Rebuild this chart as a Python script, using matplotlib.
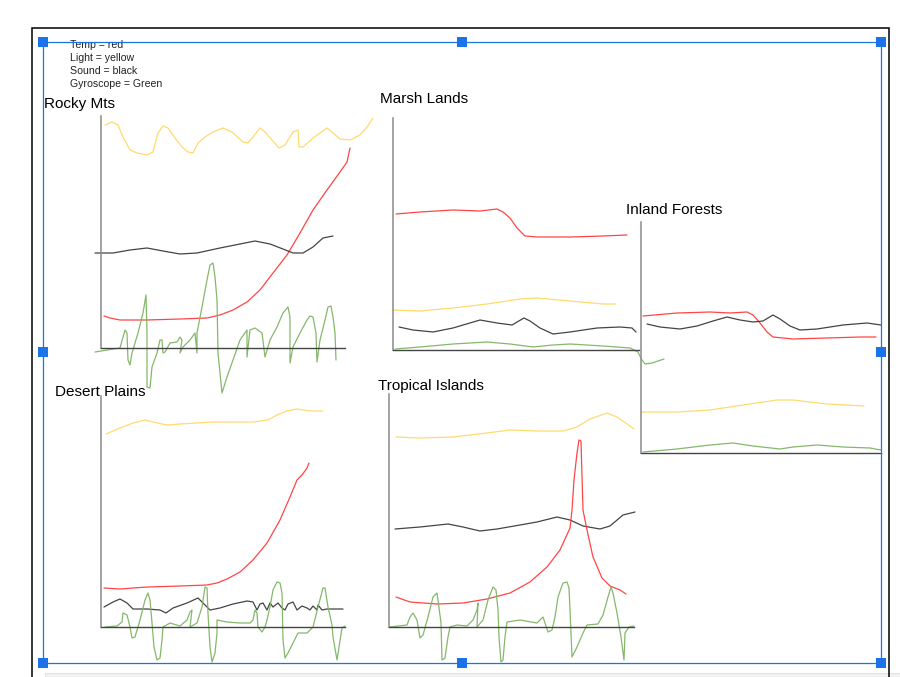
import matplotlib
matplotlib.use("Agg")
import matplotlib.pyplot as plt
from matplotlib.patches import Rectangle

plt.rcParams['font.family'] = ['Liberation Sans', 'DejaVu Sans']

# ---------------- data (panel units: x right from y-axis, y up from x-axis) -------------
legend_lines = ["Temp = red", "Light = yellow", "Sound = black", "Gyroscope = Green"]
panel_titles = ["Rocky Mts", "Desert Plains", "Marsh Lands", "Tropical Islands", "Inland Forests"]

# Rocky Mts
rocky_light_x = [4, 11, 17, 22, 29, 36, 46, 52, 57, 62, 67, 74, 81, 87, 92, 97, 104, 112, 122, 131, 142, 147, 152, 159, 164, 171, 178, 184, 192, 197, 198, 202, 212, 226, 232, 239, 249, 259, 266, 272]
rocky_light_y = [223, 226, 223, 211, 198, 195, 193, 196, 215, 222, 220, 210, 201, 196, 195, 205, 211, 216, 220, 216, 206, 205, 211, 220, 216, 208, 200, 203, 216, 218, 201, 201, 210, 220, 215, 209, 208, 213, 221, 230]
rocky_temp_x = [3, 9, 19, 46, 79, 106, 119, 132, 146, 159, 172, 186, 199, 212, 226, 239, 246, 249]
rocky_temp_y = [32, 30, 28, 28, 29, 30, 33, 38, 46, 58, 75, 93, 115, 138, 158, 176, 186, 200]
rocky_sound_x = [-6, 12, 29, 46, 62, 79, 96, 119, 139, 154, 169, 182, 192, 202, 212, 222, 232]
rocky_sound_y = [95, 95, 98, 100, 97, 94, 95, 100, 104, 107, 104, 99, 95, 95, 101, 110, 112]
rocky_gyro_x = [-6, 6, 19, 24, 26, 27, 29, 31, 37, 42, 45, 46, 46, 49, 51, 56, 59, 61, 62, 64, 69, 76, 79, 81, 79, 82, 89, 94, 96, 96, 101, 106, 109, 112, 114, 116, 117, 121, 126, 132, 139, 146, 146, 149, 154, 161, 164, 169, 176, 182, 187, 189, 189, 192, 199, 206, 209, 212, 215, 216, 219, 224, 227, 230, 232, 234, 235]
rocky_gyro_y = [-4, -2, 0, 18, 15, -12, -17, -5, 15, 35, 53, 15, -39, -40, -19, -5, 8, 8, -5, -4, 5, 6, 11, 8, -5, 1, 8, 15, -5, 15, 41, 68, 83, 85, 71, 48, -5, -45, -29, -12, 8, 18, -9, 18, 20, 15, -9, 8, 21, 35, 41, 31, -15, 1, 15, 28, 32, 31, 15, -14, 8, 28, 41, 42, 31, 15, -12]

# Desert Plains
desert_light_x = [5, 19, 32, 44, 52, 66, 79, 96, 112, 129, 152, 167, 176, 186, 196, 209, 222]
desert_light_y = [193, 199, 204, 207, 205, 202, 203, 204, 205, 205, 205, 207, 212, 216, 218, 216, 216]
desert_temp_x = [3, 19, 46, 79, 106, 116, 126, 139, 152, 166, 179, 189, 196, 201, 206, 208]
desert_temp_y = [39, 38, 40, 41, 42, 44, 48, 55, 67, 84, 107, 130, 147, 152, 159, 164]
desert_sound_x = [3, 12, 19, 26, 32, 46, 59, 65, 72, 86, 97, 102, 109, 119, 132, 146, 152, 156, 159, 162, 166, 169, 172, 177, 181, 184, 187, 192, 196, 201, 206, 209, 212, 216, 217, 221, 226, 242]
desert_sound_y = [20, 25, 28, 24, 18, 18, 17, 14, 19, 24, 29, 24, 17, 19, 23, 26, 25, 17, 23, 24, 17, 24, 20, 24, 19, 17, 23, 25, 17, 21, 19, 17, 21, 17, 22, 17, 18, 18]
desert_gyro_x = [4, 16, 21, 22, 26, 29, 31, 34, 39, 44, 47, 49, 51, 53, 56, 59, 61, 62, 69, 79, 86, 89, 91, 89, 96, 101, 104, 106, 107, 109, 111, 114, 116, 116, 126, 139, 149, 152, 154, 156, 157, 161, 164, 166, 169, 172, 176, 179, 181, 182, 184, 187, 192, 197, 206, 212, 217, 222, 224, 227, 231, 232, 236, 241, 244]
desert_gyro_y = [0, 1, 5, 14, 12, 0, -11, -10, 7, 27, 34, 27, 4, -20, -33, -31, -13, 0, 4, 1, 7, 15, 17, 0, 4, 20, 40, 39, 14, -20, -35, -26, -6, 7, 5, 4, 4, 7, 17, 14, 0, -5, 0, 7, 20, 37, 45, 44, 34, -13, -31, -26, -16, -6, -6, 0, 20, 39, 39, 20, 2, -10, -33, -1, 1]

# Marsh Lands
marsh_temp_x = [3, 27, 60, 87, 104, 110, 117, 124, 132, 144, 177, 210, 234]
marsh_temp_y = [136, 138, 140, 139, 141, 138, 132, 122, 114, 113, 113, 114, 115]
marsh_light_x = [0, 27, 60, 94, 127, 144, 177, 210, 223]
marsh_light_y = [40, 39, 42, 46, 51, 52, 49, 46, 46]
marsh_sound_x = [6, 20, 40, 60, 87, 104, 119, 131, 137, 147, 160, 177, 204, 227, 239, 243]
marsh_sound_y = [23, 20, 18, 22, 30, 27, 25, 32, 29, 22, 16, 18, 22, 23, 22, 18]
marsh_gyro_x = [2, 27, 60, 94, 117, 140, 160, 177, 210, 237, 245, 249, 252, 259, 271]
marsh_gyro_y = [1, 3, 6, 8, 6, 3, 5, 6, 4, 2, -2, -10, -14, -13, -9]

# Tropical Islands
tropic_light_x = [7, 31, 64, 98, 121, 148, 174, 188, 201, 218, 228, 238, 245]
tropic_light_y = [190, 189, 190, 194, 197, 196, 196, 200, 208, 214, 210, 203, 198]
tropic_temp_x = [7, 21, 48, 74, 98, 121, 141, 158, 171, 181, 183, 185, 188, 190, 192, 193, 194, 198, 204, 213, 221, 231, 237]
tropic_temp_y = [30, 25, 23, 24, 28, 34, 45, 60, 77, 99, 117, 147, 174, 187, 186, 151, 117, 97, 70, 49, 41, 37, 33]
tropic_sound_x = [6, 31, 59, 74, 91, 108, 131, 148, 168, 181, 194, 211, 221, 234, 246]
tropic_sound_y = [98, 100, 103, 100, 96, 98, 102, 105, 110, 107, 101, 98, 101, 112, 115]
tropic_gyro_x = [1, 18, 21, 24, 28, 31, 34, 39, 44, 48, 49, 52, 53, 56, 59, 61, 68, 78, 84, 88, 89, 88, 94, 99, 104, 107, 109, 110, 112, 114, 116, 118, 131, 148, 153, 154, 156, 159, 163, 166, 169, 174, 178, 180, 181, 183, 188, 194, 198, 209, 214, 219, 222, 224, 228, 232, 235, 236, 240, 245]
tropic_gyro_y = [0, 2, 10, 14, 7, -11, -8, 10, 30, 34, 27, 4, -33, -31, -10, 0, 2, 1, 7, 17, 24, 0, 7, 27, 40, 37, 17, -10, -35, -33, -10, 5, 7, 4, 9, 10, 4, -5, -3, 10, 30, 44, 45, 39, 17, -30, -20, -6, 2, 3, 12, 30, 40, 34, 14, -10, -33, -6, 0, 1]

# Inland Forests
inland_temp_x = [2, 36, 69, 89, 106, 112, 119, 126, 132, 152, 186, 219, 235]
inland_temp_y = [137, 140, 141, 140, 141, 138, 130, 121, 116, 114, 115, 116, 116]
inland_sound_x = [6, 19, 39, 56, 72, 86, 99, 112, 122, 132, 139, 149, 159, 176, 202, 226, 240]
inland_sound_y = [129, 126, 124, 127, 132, 136, 133, 131, 132, 138, 134, 127, 123, 124, 128, 130, 128]
inland_light_x = [0, 36, 69, 102, 136, 152, 186, 223]
inland_light_y = [41, 41, 43, 48, 53, 53, 49, 47]
inland_gyro_x = [2, 36, 69, 92, 112, 139, 152, 176, 202, 229, 240]
inland_gyro_y = [1, 4, 8, 10, 7, 4, 6, 8, 6, 5, 3]

# ---------------- styles / layout ----------------
W, H = 900, 677
RED, YELLOW, BLACK, GREEN = '#ff3b3b', '#ffd966', '#3a3a3a', '#7fb463'

fig = plt.figure(figsize=(W / 100, H / 100), dpi=100)
fig.patch.set_facecolor('white')

bg = fig.add_axes([0, 0, 1, 1])
bg.set_xlim(0, W)
bg.set_ylim(H, 0)
bg.axis('off')

# outer black frame (page)
bg.plot([32, 32, 889, 889], [H, 28, 28, H], color='black', lw=1.1, solid_joinstyle='miter')
# bottom gray strip
bg.add_patch(Rectangle((45, 673), 900, 10, facecolor='#f1f1f1', edgecolor='#e2e2e2', lw=0.8))

# legend text
clip = Rectangle((40, 43), 400, 60, transform=bg.transData, visible=False)
bg.add_patch(clip)
for i, s in enumerate(legend_lines):
    t = bg.text(70, 45 + 13 * i, s, fontsize=7.6, color='#222', va='center', ha='left')
    t.set_clip_path(clip)

# panels: (title, title_x, title_y, origin_x, origin_y, width, height, series)
panels = [
    (panel_titles[0], 44, 104, 101, 348, 244, 232,
     [(rocky_light_x, rocky_light_y, YELLOW), (rocky_temp_x, rocky_temp_y, RED),
      (rocky_sound_x, rocky_sound_y, BLACK), (rocky_gyro_x, rocky_gyro_y, GREEN)]),
    (panel_titles[1], 55, 392, 101, 627, 244, 231,
     [(desert_light_x, desert_light_y, YELLOW), (desert_temp_x, desert_temp_y, RED),
      (desert_sound_x, desert_sound_y, BLACK), (desert_gyro_x, desert_gyro_y, GREEN)]),
    (panel_titles[2], 380, 99, 393, 350, 246, 232,
     [(marsh_temp_x, marsh_temp_y, RED), (marsh_light_x, marsh_light_y, YELLOW),
      (marsh_sound_x, marsh_sound_y, BLACK), (marsh_gyro_x, marsh_gyro_y, GREEN)]),
    (panel_titles[3], 378, 386, 389, 627, 245, 233,
     [(tropic_light_x, tropic_light_y, YELLOW), (tropic_sound_x, tropic_sound_y, BLACK),
      (tropic_temp_x, tropic_temp_y, RED), (tropic_gyro_x, tropic_gyro_y, GREEN)]),
    (panel_titles[4], 626, 210, 641, 453, 240, 231,
     [(inland_temp_x, inland_temp_y, RED), (inland_sound_x, inland_sound_y, BLACK),
      (inland_light_x, inland_light_y, YELLOW), (inland_gyro_x, inland_gyro_y, GREEN)]),
]

for title, tx, ty, ox, oy, w, h, series in panels:
    bg.text(tx, ty, title, fontsize=11, color='black', ha='left', va='center')
    ax = fig.add_axes([ox / W, 1 - oy / H, w / W, h / H])
    ax.set_xlim(0, w)
    ax.set_ylim(0, h)
    ax.patch.set_alpha(0)
    for side in ('top', 'right'):
        ax.spines[side].set_visible(False)
    ax.spines['left'].set_color('#8a8a8a')
    ax.spines['left'].set_linewidth(1.1)
    ax.spines['bottom'].set_color('#444444')
    ax.spines['bottom'].set_linewidth(1.0)
    ax.set_xticks([])
    ax.set_yticks([])
    for xs, ys, c in series:
        ax.plot(xs, ys, color=c, lw=0.9, clip_on=False, solid_joinstyle='round',
                solid_capstyle='round', alpha=0.95)

# selection overlay (blue)
ov = fig.add_axes([0, 0, 1, 1], zorder=10)
ov.set_xlim(0, W)
ov.set_ylim(H, 0)
ov.axis('off')
ov.patch.set_alpha(0)
BLUE = '#1a73e8'
ov.plot([43, 881, 881, 43, 43], [42, 42, 663, 663, 42], color=BLUE, lw=0.9)
for hx in (43, 462, 881):
    for hy in (42, 352, 663):
        if hx == 462 and hy == 352:
            continue
        ov.add_patch(Rectangle((hx - 5, hy - 5), 10, 10, facecolor=BLUE, edgecolor='none'))

fig.savefig('out.png', dpi=100)
